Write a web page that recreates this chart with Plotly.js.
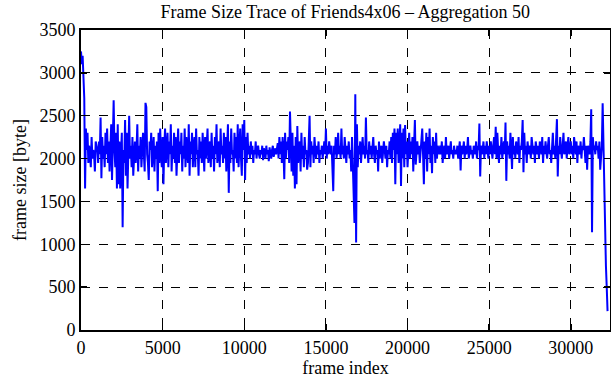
<!DOCTYPE html>
<html>
<head>
<meta charset="utf-8">
<script src="https://cdn.plot.ly/plotly-3.0.1.min.js"></script>
<style>html,body{margin:0;padding:0;background:#fff;}#chart{width:611px;height:380px;}</style>
</head>
<body>
<div id="chart"></div>
<script>
// Aggregation interval (frames per point)
const aggregation = 50;
// Aggregated frame sizes [byte], one value per 50 frames
const frameSizes = [
  // 0 - 950
  3250, 3100, 3200, 2950, 2700, 1650, 2350, 2100, 2300, 1950, 2150, 2050, 1900, 2250, 2000, 2100, 2050, 1850, 2200, 2150,
  // 1000 - 1950
  2100, 1950, 2200, 2050, 2480, 1770, 2250, 2000, 2150, 1900, 2300, 2050, 2350, 1950, 2200, 1850, 2050, 2400, 1750, 2150,
  // 2000 - 2950
  2680, 2100, 1900, 2300, 1650, 2400, 1700, 2200, 1650, 2050, 2300, 1200, 2100, 1950, 2450, 1800, 2300, 1650, 2250, 2500,
  // 3000 - 3950
  2000, 2150, 1900, 2250, 1800, 2050, 2200, 1950, 2100, 2400, 1850, 2150, 2000, 2250, 1900, 2100, 2300, 2050, 1850, 2650,
  // 4000 - 4950
  2600, 2050, 1950, 1750, 2200, 2100, 2300, 1900, 2050, 2250, 1850, 2150, 2000, 2200, 1620, 2300, 1950, 2350, 2050, 1900,
  // 5000 - 5950
  2250, 1700, 2150, 2350, 1950, 2100, 2300, 1900, 2200, 2050, 2400, 1850, 2150, 2000, 2300, 1950, 2250, 1800, 2100, 2350,
  // 6000 - 6950
  1950, 2200, 2050, 2300, 1850, 2150, 2000, 2350, 1900, 2250, 2100, 1950, 2400, 1800, 2200, 2050, 2300, 1900, 2150, 2250,
  // 7000 - 7950
  1900, 2350, 2050, 2100, 1800, 2250, 2000, 2200, 1950, 2300, 2100, 1850, 2250, 2000, 2150, 2350, 1950, 2100, 2200, 1900,
  // 8000 - 8950
  2300, 2000, 2150, 1850, 2250, 2050, 2400, 1950, 2100, 2200, 1900, 2350, 2050, 2150, 1950, 2300, 2000, 2250, 1850, 2150,
  // 9000 - 9950
  2400, 1600, 2200, 1950, 2350, 2050, 2100, 1850, 2300, 2000, 2250, 1950, 2400, 1900, 2150, 2350, 2000, 1800, 2400, 2100,
  // 10000 - 10950
  2450, 1750, 2250, 1950, 2300, 2050, 2150, 2000, 2200, 2050, 2150, 1950, 2100, 2050, 2200, 2000, 2100, 2150, 2050, 2000,
  // 11000 - 11950
  2100, 2050, 2150, 1980, 2120, 2080, 2000, 2150, 2050, 2100, 1970, 2130, 2060, 2000, 2100, 2150, 2020, 2080, 2120, 2050,
  // 12000 - 12950
  2100, 2180, 2000, 2250, 2050, 2200, 1950, 2250, 2100, 1760, 2300, 2000, 2200, 2100, 2250, 1950, 2550, 2000, 1850, 2300,
  // 13000 - 13950
  1800, 2150, 1650, 2250, 1700, 2380, 1950, 2100, 2200, 1850, 2300, 2000, 2150, 1900, 2250, 2050, 2100, 1870, 1950, 2200,
  // 14000 - 14950
  2500, 1900, 2200, 2050, 2150, 1950, 2250, 2100, 2000, 2150, 2050, 2200, 1950, 2100, 2050, 2150, 2000, 2100, 2200, 2050,
  // 15000 - 15950
  2350, 2000, 2150, 2050, 2200, 2100, 2050, 2150, 1950, 1620, 2150, 2050, 2250, 2000, 2100, 2300, 2050, 2150, 2000, 2350,
  // 16000 - 16950
  2050, 2150, 2000, 2250, 2100, 1950, 2150, 2050, 2200, 2000, 2100, 1850, 2250, 1950, 1750, 1250, 2750, 1020, 2400, 1900,
  // 17000 - 17950
  2150, 2050, 2200, 1950, 2100, 2250, 2050, 2150, 2000, 2480, 2050, 2100, 1950, 2200, 2050, 2150, 2000, 2100, 2250, 2050,
  // 18000 - 18950
  1950, 2150, 2050, 2100, 1850, 2200, 2000, 2100, 2150, 1950, 2050, 2200, 2100, 2000, 2150, 1900, 2100, 2050, 2200, 2000,
  // 19000 - 19950
  2250, 1950, 2300, 2100, 2350, 1700, 2300, 2050, 2350, 1950, 2150, 2400, 1680, 2300, 2000, 2350, 1900, 2390, 2050, 2200,
  // 20000 - 20950
  1900, 2150, 2300, 2000, 2200, 2050, 2250, 1850, 2150, 2450, 1930, 2100, 2200, 2050, 2150, 1950, 2100, 2200, 2350, 2050,
  // 21000 - 21950
  1700, 2200, 2000, 2300, 1850, 2250, 2050, 2350, 1950, 2150, 1830, 2250, 2050, 2200, 1950, 2300, 2000, 2150, 2100, 2050,
  // 22000 - 22950
  2150, 2050, 2200, 1950, 2100, 2150, 2000, 2250, 2050, 2100, 2150, 2000, 2100, 2200, 2050, 2100, 2000, 2150, 2050, 2100,
  // 23000 - 23950
  2050, 2150, 2000, 2100, 2200, 1860, 2150, 2050, 2100, 2200, 2000, 2150, 2050, 2100, 2250, 2000, 2100, 2150, 2050, 2100,
  // 24000 - 24950
  2000, 2150, 2100, 2050, 2200, 2000, 2150, 2100, 2410, 1790, 2150, 2050, 2100, 2200, 2000, 2150, 2050, 2200, 2100, 2000,
  // 25000 - 25950
  2150, 2050, 2200, 2100, 2000, 2150, 2250, 2050, 2370, 2000, 2300, 2100, 1950, 2150, 2050, 2250, 2000, 2100, 2200, 2050,
  // 26000 - 26950
  2420, 1740, 2200, 2050, 2150, 2000, 2300, 2100, 1880, 2250, 2050, 2150, 2000, 2200, 2100, 2050, 2250, 1950, 2150, 2100,
  // 27000 - 27950
  2200, 2450, 1840, 2300, 2050, 2150, 1950, 2200, 2100, 2050, 2150, 2000, 2250, 2100, 2050, 2150, 1950, 2200, 2100, 2050,
  // 28000 - 28950
  2150, 2000, 2200, 2100, 2050, 2250, 1950, 2150, 2050, 2200, 2100, 2000, 2150, 2250, 2050, 2100, 1950, 2200, 2300, 2050,
  // 29000 - 29950
  2150, 2000, 2200, 2460, 1790, 2150, 2050, 2250, 2100, 2000, 2150, 2300, 2050, 2100, 2200, 2000, 2150, 2250, 2050, 2100,
  // 30000 - 30950
  2200, 2050, 2150, 2000, 2250, 2100, 2050, 2200, 1950, 2150, 2100, 2050, 2200, 2000, 2150, 2100, 2250, 2050, 1950, 2150,
  // 31000 - 31950
  1870, 2150, 2100, 2050, 2200, 2575, 1140, 2250, 2100, 2150, 2050, 2200, 2100, 2150, 2000, 2200, 1870, 2100, 2150, 2645,
  // 32000 - 32250
  2100, 1600, 1100, 750, 500, 220
];
const frameIndex = frameSizes.map((_, i) => i * aggregation);

const xTicks = [0, 5000, 10000, 15000, 20000, 25000, 30000];
const yTicks = [0, 500, 1000, 1500, 2000, 2500, 3000, 3500];

const fontFamily = '"Liberation Serif", "DejaVu Serif", serif';

const trace = {
  x: frameIndex,
  y: frameSizes,
  type: 'scatter',
  mode: 'lines',
  line: {color: '#0000ff', width: 2},
  hoverinfo: 'skip'
};

const axisCommon = {
  showline: true,
  linecolor: '#000',
  linewidth: 2,
  mirror: 'ticks',
  ticks: 'inside',
  ticklen: 6,
  tickwidth: 1.5,
  tickcolor: '#000',
  showgrid: true,
  gridcolor: '#000',
  gridwidth: 1,
  griddash: 'dash',
  zeroline: false,
  tickfont: {family: fontFamily, size: 18, color: '#000'}
};

const layout = {
  width: 611,
  height: 380,
  margin: {l: 81, r: 1, t: 30, b: 50},
  paper_bgcolor: '#fff',
  plot_bgcolor: '#fff',
  showlegend: false,
  title: {
    text: 'Frame Size Trace of Friends4x06 – Aggregation 50',
    font: {family: fontFamily, size: 18, color: '#000'},
    x: 0.565, xanchor: 'center', y: 0.985, yanchor: 'top'
  },
  xaxis: Object.assign({}, axisCommon, {
    range: [0, 32400],
    tickvals: xTicks,
    ticktext: xTicks.map(String),
    title: {text: 'frame index', font: {family: fontFamily, size: 18, color: '#000'}, standoff: 5}
  }),
  yaxis: Object.assign({}, axisCommon, {
    range: [0, 3500],
    tickvals: yTicks,
    ticktext: yTicks.map(String),
    title: {text: 'frame size [byte]', font: {family: fontFamily, size: 18, color: '#000'}, standoff: 8}
  })
};

Plotly.newPlot('chart', [trace], layout, {staticPlot: true, displayModeBar: false});
</script>
</body>
</html>
